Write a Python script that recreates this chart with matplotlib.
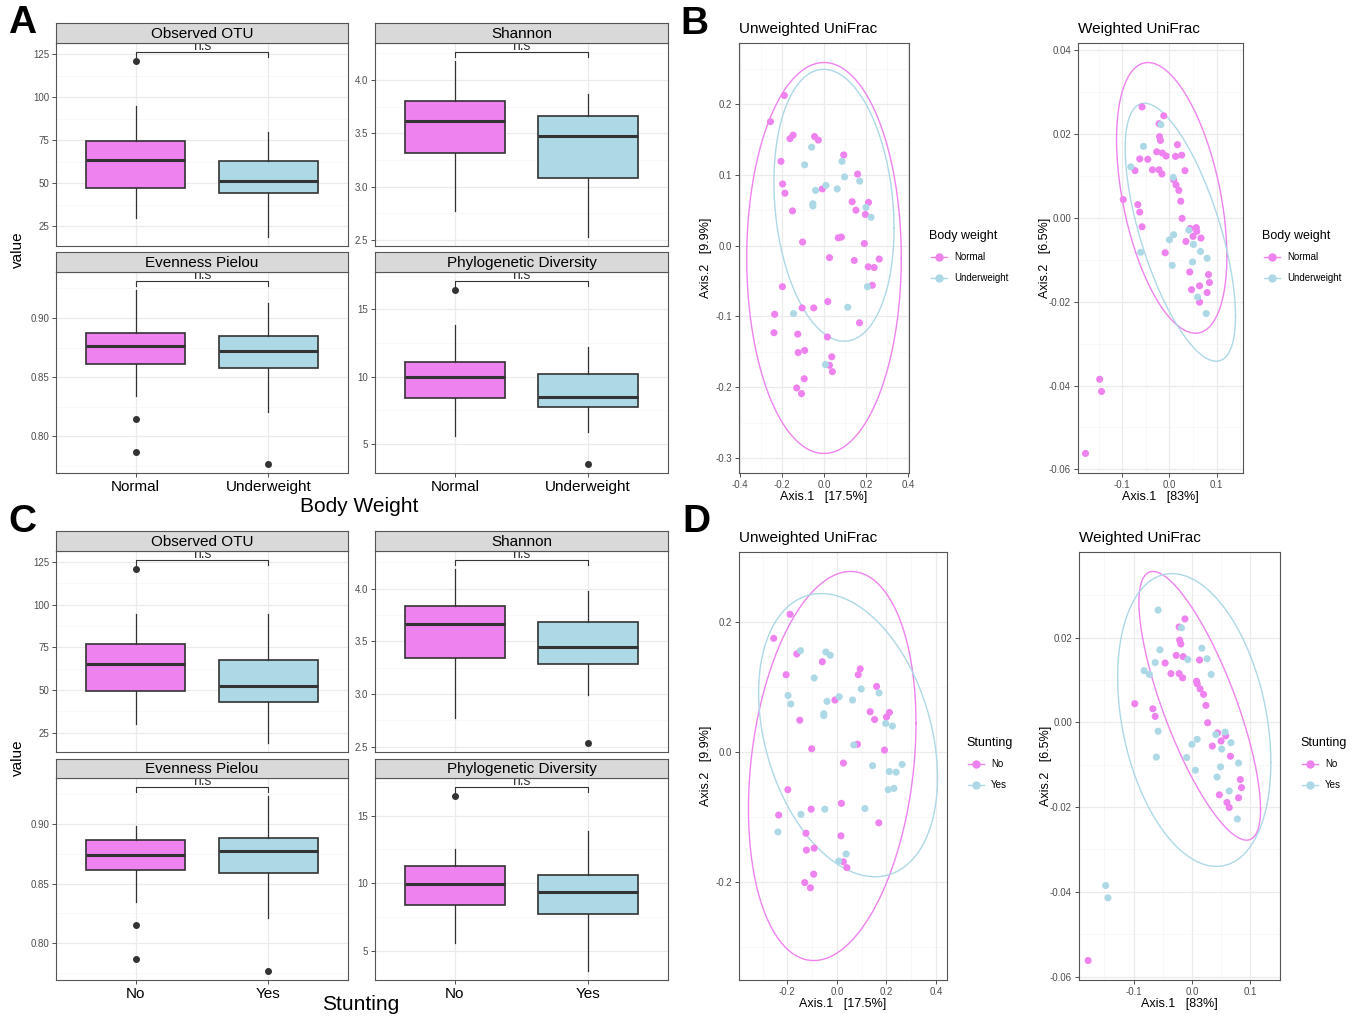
import numpy as np
import matplotlib
matplotlib.use("Agg")
import matplotlib.pyplot as plt
from matplotlib.lines import Line2D
from matplotlib.ticker import FormatStrFormatter

plt.rcParams['font.family'] = ['Liberation Sans', 'DejaVu Sans']
plt.rcParams['axes.unicode_minus'] = False

W, H = 1362, 1016
PINK = '#EE82EE'
BLUE = '#ADD8E6'
DARK = '#333333'
GRID = '#EBEBEB'
GRID_MINOR = '#F5F5F5'
TICK_COL = '#4D4D4D'

# ---------------- alpha diversity (box stats) ----------------
metrics = ["Observed OTU", "Shannon", "Evenness Pielou", "Phylogenetic Diversity"]
bw_groups = ["Normal", "Underweight"]
st_groups = ["No", "Yes"]

# per metric: [group1, group2]
bw_whislo = [[29.9, 18.8], [2.77, 2.53], [0.8345, 0.8208], [5.62, 5.90]]
bw_q1 = [[46.9, 44.1], [3.318, 3.08], [0.8612, 0.8581], [8.40, 7.78]]
bw_med = [[63.5, 51.2], [3.616, 3.47], [0.8767, 0.8722], [10.0, 8.47]]
bw_q3 = [[74.8, 62.9], [3.80, 3.66], [0.8876, 0.8851], [11.11, 10.2]]
bw_whishi = [[94.7, 79.7], [4.18, 3.87], [0.9239, 0.9129], [13.86, 12.2]]
bw_out = [[[121.1], []], [[], []], [[0.8149, 0.7865], [0.7767]], [[16.46], [3.52]]]
bw_bracket = [126.2, 4.26, 0.9312, 17.1]

st_whislo = [[30.2, 19.1], [2.773, 2.987], [0.8343, 0.821], [5.6, 3.54]]
st_q1 = [[49.6, 43.0], [3.338, 3.287], [0.8613, 0.8591], [8.4, 7.71]]
st_med = [[65.5, 52.5], [3.669, 3.448], [0.8741, 0.8772], [9.95, 9.34]]
st_q3 = [[76.9, 67.5], [3.836, 3.68], [0.8864, 0.8886], [11.25, 10.59]]
st_whishi = [[94.6, 94.6], [4.186, 3.98], [0.898, 0.9234], [12.56, 13.86]]
st_out = [[[120.7], []], [[], [2.537]], [[0.815, 0.7869], [0.7767]], [[16.45], []]]
st_bracket = [126.0, 4.27, 0.9309, 17.1]

# ---------------- PCoA coordinates ----------------
uw_x = [-0.255, -0.189, -0.162, -0.147, -0.045, -0.027, -0.059, -0.205, -0.092, 0.094,
        0.086, 0.160, 0.098, 0.170, -0.197, -0.186, -0.008, 0.009, -0.040, 0.063,
        -0.053, -0.053, 0.134, 0.212, 0.200, -0.150, 0.152, 0.197, 0.224, -0.102,
        0.068, 0.083, 0.192, 0.026, 0.144, 0.263, 0.211, 0.239, 0.230, 0.207,
        -0.198, 0.018, -0.104, -0.049, 0.113, 0.169, -0.235, -0.145, -0.238, -0.125,
        0.016, -0.123, -0.092, 0.037, 0.007, 0.026, 0.040, -0.094, -0.130, -0.107]
uw_y = [0.175, 0.212, 0.151, 0.156, 0.154, 0.149, 0.139, 0.119, 0.114, 0.128,
        0.119, 0.101, 0.097, 0.091, 0.087, 0.074, 0.080, 0.085, 0.078, 0.080,
        0.059, 0.056, 0.062, 0.061, 0.054, 0.049, 0.050, 0.044, 0.040, 0.005,
        0.011, 0.012, 0.003, -0.017, -0.021, -0.019, -0.030, -0.031, -0.056, -0.058,
        -0.058, -0.079, -0.088, -0.088, -0.087, -0.109, -0.097, -0.096, -0.123, -0.125,
        -0.129, -0.151, -0.148, -0.157, -0.168, -0.169, -0.178, -0.188, -0.201, -0.209]
uw_bw = ['N', 'N', 'N', 'N', 'N', 'N', 'U', 'N', 'U', 'N',
         'U', 'N', 'U', 'U', 'N', 'N', 'N', 'U', 'U', 'U',
         'U', 'U', 'N', 'N', 'U', 'N', 'N', 'N', 'U', 'N',
         'N', 'N', 'N', 'N', 'N', 'N', 'N', 'N', 'N', 'U',
         'N', 'N', 'N', 'N', 'U', 'N', 'N', 'U', 'N', 'N',
         'N', 'N', 'N', 'N', 'U', 'N', 'N', 'N', 'N', 'N']
uw_st = ['No', 'No', 'No', 'Yes', 'Yes', 'Yes', 'No', 'No', 'Yes', 'No',
         'No', 'No', 'Yes', 'Yes', 'Yes', 'Yes', 'No', 'Yes', 'Yes', 'Yes',
         'Yes', 'Yes', 'No', 'No', 'No', 'No', 'No', 'Yes', 'Yes', 'No',
         'Yes', 'No', 'No', 'No', 'Yes', 'Yes', 'Yes', 'Yes', 'Yes', 'Yes',
         'No', 'No', 'No', 'Yes', 'Yes', 'No', 'No', 'Yes', 'Yes', 'No',
         'No', 'No', 'No', 'Yes', 'Yes', 'No', 'No', 'No', 'No', 'No']

w_x = [-0.058, -0.012, -0.022, -0.018, -0.021, -0.019, 0.017, -0.055, -0.027, -0.015,
       -0.007, 0.013, 0.026, -0.063, -0.046, -0.082, -0.073, -0.036, -0.022, -0.016,
       0.033, 0.008, 0.009, 0.014, 0.020, 0.024, -0.098, -0.067, -0.063, -0.058,
       0.027, 0.044, 0.041, 0.057, 0.058, 0.050, 0.067, 0.035, 0.009, 0.000,
       0.051, -0.061, 0.066, -0.009, 0.080, 0.049, 0.006, 0.043, 0.083, 0.085,
       0.064, 0.047, 0.080, 0.060, 0.064, 0.078, -0.148, -0.144, -0.178]
w_y = [0.0265, 0.0244, 0.0225, 0.0223, 0.0194, 0.0185, 0.0175, 0.0171, 0.0158, 0.0155,
       0.0148, 0.0147, 0.0150, 0.0141, 0.0140, 0.0122, 0.0113, 0.0115, 0.0115, 0.0105,
       0.0113, 0.0097, 0.0091, 0.0079, 0.0066, 0.0040, 0.0044, 0.0032, 0.0014, -0.0021,
       -0.0001, -0.0025, -0.0029, -0.0023, -0.0032, -0.0044, -0.0048, -0.0056, -0.0040, -0.0052,
       -0.0063, -0.0082, -0.0080, -0.0083, -0.0096, -0.0105, -0.0113, -0.0129, -0.0135, -0.0154,
       -0.0162, -0.0171, -0.0178, -0.0189, -0.0201, -0.0228, -0.0385, -0.0414, -0.0562]
w_bw = ['N', 'N', 'N', 'U', 'N', 'N', 'N', 'U', 'N', 'N',
        'N', 'N', 'N', 'N', 'N', 'U', 'N', 'N', 'N', 'N',
        'N', 'U', 'N', 'N', 'N', 'N', 'N', 'N', 'N', 'N',
        'N', 'N', 'U', 'N', 'N', 'N', 'N', 'N', 'U', 'U',
        'U', 'U', 'U', 'N', 'U', 'U', 'U', 'N', 'N', 'N',
        'N', 'N', 'N', 'U', 'N', 'U', 'N', 'N', 'N']
w_st = ['Yes', 'No', 'No', 'Yes', 'No', 'No', 'Yes', 'Yes', 'No', 'No',
        'Yes', 'No', 'Yes', 'Yes', 'No', 'Yes', 'Yes', 'No', 'No', 'No',
        'Yes', 'No', 'No', 'No', 'No', 'No', 'No', 'No', 'No', 'Yes',
        'No', 'No', 'Yes', 'Yes', 'No', 'No', 'Yes', 'No', 'Yes', 'Yes',
        'Yes', 'Yes', 'No', 'Yes', 'Yes', 'Yes', 'Yes', 'Yes', 'No', 'No',
        'Yes', 'No', 'No', 'No', 'No', 'Yes', 'Yes', 'Yes', 'No']

# ellipse: centre x, centre y, half width, half height, correlation
ell_bw_unw = {'N': (0.0, -0.0175, 0.368, 0.276, 0.0), 'U': (0.0475, 0.057, 0.286, 0.192, -0.17)}
ell_bw_w = {'N': (0.0049, 0.0048, 0.117, 0.0323, -0.43), 'U': (0.0232, -0.0034, 0.117, 0.0308, -0.65)}
ell_st_unw = {'No': (-0.019, -0.0215, 0.338, 0.2995, 0.22), 'Yes': (0.045, 0.026, 0.361, 0.218, -0.30)}
ell_st_w = {'No': (0.0134, 0.0039, 0.1043, 0.0317, -0.77), 'Yes': (0.004, 0.00055, 0.1314, 0.03455, -0.29)}


fig = plt.figure(figsize=(W / 100, H / 100), dpi=100)


def px_axes(x0, y0, x1, y1):
    return fig.add_axes([x0 / W, 1 - y1 / H, (x1 - x0) / W, (y1 - y0) / H])


def ftext(x, y, s, **kw):
    fig.text(x / W, 1 - y / H, s, **kw)


def style_frame(ax):
    for sp in ax.spines.values():
        sp.set_color('#555555')
        sp.set_linewidth(0.8)
    ax.tick_params(which='major', length=3, width=0.6, color=DARK, labelcolor=TICK_COL, labelsize=7, pad=2)
    ax.tick_params(which='minor', length=0)
    ax.set_axisbelow(True)
    ax.grid(which='major', color=GRID, lw=0.9)
    ax.grid(which='minor', color=GRID_MINOR, lw=0.5)


box_ticks = [[25, 50, 75, 100, 125], [2.5, 3.0, 3.5, 4.0], [0.80, 0.85, 0.90], [5, 10, 15]]
box_minor = [[12.5, 37.5, 62.5, 87.5, 112.5, 137.5], [2.25, 2.75, 3.25, 3.75, 4.25],
             [0.775, 0.825, 0.875, 0.925], [2.5, 7.5, 12.5, 17.5]]
box_fmt = ['%d', '%.1f', '%.2f', '%d']


def box_panel(cells, groups, whislo, q1, med, q3, whishi, out, bracket):
    for i, (x0, y0, x1, y1, s0) in enumerate(cells):
        ax = px_axes(x0, y0, x1, y1)
        stats = []
        for g in range(2):
            stats.append(dict(med=med[i][g], q1=q1[i][g], q3=q3[i][g],
                              whislo=whislo[i][g], whishi=whishi[i][g], fliers=out[i][g]))
        bp = ax.bxp(stats, positions=[1, 2], widths=0.75, patch_artist=True, showcaps=False,
                    boxprops=dict(edgecolor=DARK, linewidth=1.2),
                    medianprops=dict(color=DARK, linewidth=2.2),
                    whiskerprops=dict(color=DARK, linewidth=0.9),
                    flierprops=dict(marker='o', markerfacecolor=DARK, markeredgecolor=DARK, markersize=4))
        for patch, col in zip(bp['boxes'], [PINK, BLUE]):
            patch.set_facecolor(col)
        lo = min([whislo[i][0], whislo[i][1]] + out[i][0] + out[i][1])
        hi = bracket[i]
        rng = hi - lo
        tip = 0.025 * rng
        ax.plot([1, 1, 2, 2], [hi - tip, hi, hi, hi - tip], color=DARK, lw=0.8)
        ax.text(1.5, hi - 0.004 * rng, 'n.s', ha='center', va='bottom', fontsize=10, color=DARK)
        ax.set_yticks(box_ticks[i])
        ax.set_yticks(box_minor[i], minor=True)
        ax.yaxis.set_major_formatter(FormatStrFormatter(box_fmt[i]))
        ax.set_xticks([1, 2])
        ax.set_ylim(lo - 0.05 * rng, hi + 0.05 * rng)
        ax.set_xlim(0.4, 2.6)
        style_frame(ax)
        if i >= 2:
            ax.set_xticklabels(groups, fontsize=11, color='black')
        else:
            ax.set_xticklabels(['', ''])
            ax.tick_params(axis='x', length=0)
        sax = px_axes(x0, s0, x1, y0)
        sax.set_facecolor('#D9D9D9')
        sax.set_xticks([])
        sax.set_yticks([])
        for sp in sax.spines.values():
            sp.set_color('#555555')
            sp.set_linewidth(0.8)
        sax.text(0.5, 0.45, metrics[i], ha='center', va='center', fontsize=11, transform=sax.transAxes)


A_cells = [(56, 43, 348, 246, 23), (375, 43, 668, 246, 23),
           (56, 272, 348, 473, 252), (375, 272, 668, 473, 252)]
C_cells = [(56, 551, 348, 752, 531), (375, 551, 668, 752, 531),
           (56, 778, 348, 980, 759), (375, 778, 668, 980, 759)]

box_panel(A_cells, bw_groups, bw_whislo, bw_q1, bw_med, bw_q3, bw_whishi, bw_out, bw_bracket)
box_panel(C_cells, st_groups, st_whislo, st_q1, st_med, st_q3, st_whishi, st_out, st_bracket)

ftext(18, 250, 'value', rotation=90, ha='center', va='center', fontsize=11)
ftext(18, 758, 'value', rotation=90, ha='center', va='center', fontsize=11)
ftext(359, 506, 'Body Weight', ha='center', va='center', fontsize=15)
ftext(361, 1004, 'Stunting', ha='center', va='center', fontsize=15)


def ellipse_curve(p):
    cx, cy, hx, hy, r = p
    t = np.linspace(0, 2 * np.pi, 240)
    return cx + hx * np.cos(t), cy + hy * (r * np.cos(t) + np.sqrt(1 - r * r) * np.sin(t))


def pcoa_panel(box, xs, ys, labs, keys, names, ells, xt, xm, yt, ym, xf, yf,
               title, xlab, ylab, leg_title, leg_xy):
    x0, y0, x1, y1 = box
    ax = px_axes(x0, y0, x1, y1)
    xs = np.array(xs)
    ys = np.array(ys)
    labs = np.array(labs)
    allx, ally = list(xs), list(ys)
    for k, col in zip(keys, [PINK, BLUE]):
        m = labs == k
        ax.scatter(xs[m], ys[m], s=26, color=col, edgecolors='none', zorder=3)
        ex, ey = ellipse_curve(ells[k])
        ax.plot(ex, ey, color=col, lw=1.0, zorder=2)
        allx += list(ex)
        ally += list(ey)
    ax.set_xticks(xt)
    ax.set_xticks(xm, minor=True)
    ax.set_yticks(yt)
    ax.set_yticks(ym, minor=True)
    ax.xaxis.set_major_formatter(FormatStrFormatter(xf))
    ax.yaxis.set_major_formatter(FormatStrFormatter(yf))
    rx = max(allx) - min(allx)
    ry = max(ally) - min(ally)
    ax.set_xlim(min(allx) - 0.05 * rx, max(allx) + 0.05 * rx)
    ax.set_ylim(min(ally) - 0.05 * ry, max(ally) + 0.05 * ry)
    style_frame(ax)
    ftext(x0, y0 - 14, title, ha='left', va='center', fontsize=11)
    ftext((x0 + x1) / 2, y1 + 24, xlab, ha='center', va='center', fontsize=9)
    ftext(x0 - 33, (y0 + y1) / 2, ylab, rotation=90, ha='center', va='center', fontsize=9)
    handles = [Line2D([0], [0], color=c, marker='o', markersize=5, lw=1) for c in [PINK, BLUE]]
    lx, ly = leg_xy
    ftext(lx, ly, leg_title, ha='left', va='center', fontsize=9)
    fig.legend(handles, names, loc='upper left', bbox_to_anchor=(lx / W, 1 - (ly + 14) / H),
               frameon=False, fontsize=7, handlelength=1.6, handletextpad=0.8,
               labelspacing=1.15, borderpad=0.2, borderaxespad=0)


pcoa_panel((739, 43, 909, 473), uw_x, uw_y, uw_bw, ['N', 'U'], bw_groups, ell_bw_unw,
           [-0.4, -0.2, 0, 0.2, 0.4], [-0.3, -0.1, 0.1, 0.3],
           [-0.3, -0.2, -0.1, 0, 0.1, 0.2], [-0.25, -0.15, -0.05, 0.05, 0.15, 0.25],
           '%.1f', '%.1f', 'Unweighted UniFrac', 'Axis.1   [17.5%]', 'Axis.2   [9.9%]',
           'Body weight', (929, 236))
pcoa_panel((1078, 43, 1243, 473), w_x, w_y, w_bw, ['N', 'U'], bw_groups, ell_bw_w,
           [-0.1, 0, 0.1], [-0.15, -0.05, 0.05, 0.15],
           [-0.06, -0.04, -0.02, 0, 0.02, 0.04], [-0.05, -0.03, -0.01, 0.01, 0.03],
           '%.1f', '%.2f', 'Weighted UniFrac', 'Axis.1   [83%]', 'Axis.2   [6.5%]',
           'Body weight', (1262, 236))
pcoa_panel((739, 552, 947, 980), uw_x, uw_y, uw_st, ['No', 'Yes'], st_groups, ell_st_unw,
           [-0.2, 0, 0.2, 0.4], [-0.3, -0.1, 0.1, 0.3],
           [-0.2, 0, 0.2], [-0.3, -0.1, 0.1, 0.3],
           '%.1f', '%.1f', 'Unweighted UniFrac', 'Axis.1   [17.5%]', 'Axis.2   [9.9%]',
           'Stunting', (966, 743))
pcoa_panel((1079, 552, 1280, 980), w_x, w_y, w_st, ['No', 'Yes'], st_groups, ell_st_w,
           [-0.1, 0, 0.1], [-0.15, -0.05, 0.05, 0.15],
           [-0.06, -0.04, -0.02, 0, 0.02], [-0.05, -0.03, -0.01, 0.01, 0.03],
           '%.1f', '%.2f', 'Weighted UniFrac', 'Axis.1   [83%]', 'Axis.2   [6.5%]',
           'Stunting', (1300, 743))

# panel letters
for letter, (lx, ly) in zip("ABCD", [(22, 23), (694, 24), (22, 522), (696, 522)]):
    ftext(lx, ly, letter, ha='center', va='center', fontsize=28, fontweight='bold')

fig.savefig('out.png', dpi=100)
